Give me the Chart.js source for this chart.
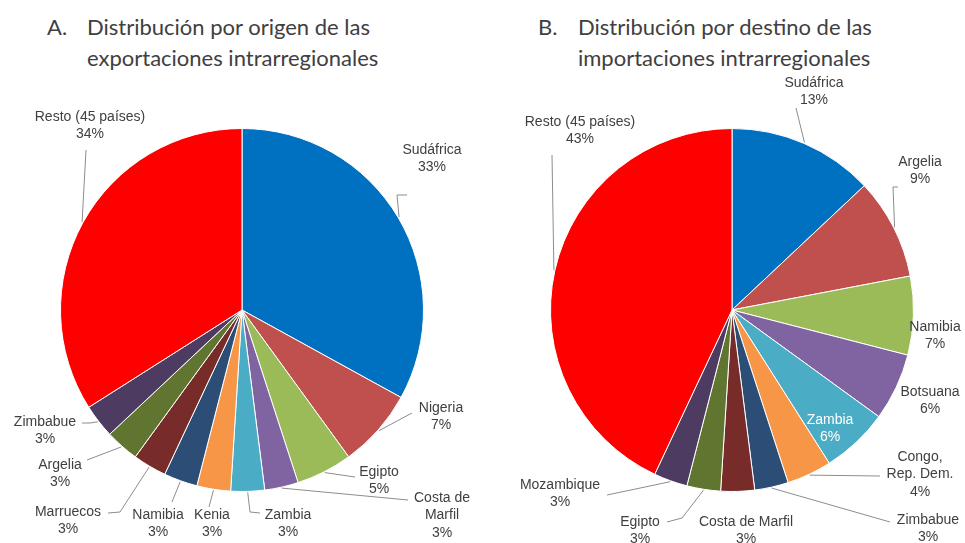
<!DOCTYPE html>
<html>
<head>
<meta charset="utf-8">
<script src="https://cdn.jsdelivr.net/npm/chart.js@4"></script>
<style>
  body { margin: 0; background: #fff; width: 965px; height: 543px; overflow: hidden; position: relative; }
  .title { position: absolute; top: 11px; color: #404040; font-family: Lato, sans-serif; font-size: 22px; line-height: 31px; }
  .title .k { position: absolute; left: 0; top: 0; }
  .title .t { margin-left: 40px; white-space: nowrap; }
  canvas { position: absolute; top: 0; }
</style>
</head>
<body>
<div class="title" style="left:47px"><span class="k">A.</span><div class="t">Distribución por origen de las<br>exportaciones intrarregionales</div></div>
<div class="title" style="left:538px"><span class="k">B.</span><div class="t">Distribución por destino de las<br>importaciones intrarregionales</div></div>
<canvas id="pieA" width="482" height="543" style="left:0"></canvas>
<canvas id="pieB" width="483" height="543" style="left:482px"></canvas>
<script>
// slices, clockwise from 12 o'clock
const labelsA = ['Sudáfrica', 'Nigeria', 'Egipto', 'Costa de Marfil', 'Zambia', 'Kenia', 'Namibia', 'Marruecos', 'Argelia', 'Zimbabue', 'Resto (45 países)'];
const valuesA = [33, 7, 5, 3, 3, 3, 3, 3, 3, 3, 34];

const labelsB = ['Sudáfrica', 'Argelia', 'Namibia', 'Botsuana', 'Zambia', 'Congo, Rep. Dem.', 'Zimbabue', 'Costa de Marfil', 'Egipto', 'Mozambique', 'Resto (45 países)'];
const valuesB = [13, 9, 7, 6, 6, 4, 3, 3, 3, 3, 43];

const colors = ['#0070C0', '#C0504D', '#9BBB59', '#8064A2', '#4BACC6', '#F79646', '#2C4D75', '#772C2A', '#5F7530', '#4D3B62', '#FF0000'];

// label placement, offsets from the pie centre (text lines, label pos, leader bends)
const layoutA = [
  { text: ['Sudáfrica'], at: [190, -160], lead: [[155, -115], [165, -115]] },
  { text: ['Nigeria'], at: [199, 98], lead: [[170, 103]] },
  { text: ['Egipto'], at: [137, 162], lead: [[113, 167]] },
  { text: ['Costa de', 'Marfil'], at: [200, 188], lead: [[166, 190]] },
  { text: ['Zambia'], at: [46, 205], lead: [[8, 202], [18, 203]] },
  { text: ['Kenia'], at: [-30, 205], lead: [[-33, 197]] },
  { text: ['Namibia'], at: [-84, 205], lead: [[-70, 192]] },
  { text: ['Marruecos'], at: [-174, 202], lead: [[-122, 202], [-134, 203]] },
  { text: ['Argelia'], at: [-182, 155], lead: [[-155, 150]] },
  { text: ['Zimbabue'], at: [-197, 112], lead: [[-152, 113], [-160, 113]] },
  { text: ['Resto (45 países)'], at: [-152, -193], lead: [[-156, -160]] }
];

const layoutB = [
  { text: ['Sudáfrica'], at: [82, -227], lead: [[64, -202]] },
  { text: ['Argelia'], at: [188, -148], lead: [[161, -123], [166, -123]] },
  { text: ['Namibia'], at: [203, 17] },
  { text: ['Botsuana'], at: [198, 82] },
  { text: ['Zambia'], at: [98, 110], color: '#ffffff' },
  { text: ['Congo,', 'Rep. Dem.'], at: [188, 147], lead: [[148, 166]] },
  { text: ['Zimbabue'], at: [196, 210], lead: [[158, 212]] },
  { text: ['Costa de Marfil'], at: [14, 212] },
  { text: ['Egipto'], at: [-92, 212], lead: [[-50, 208], [-65, 212]] },
  { text: ['Mozambique'], at: [-172, 175], lead: [[-125, 185]] },
  { text: ['Resto (45 países)'], at: [-152, -188], lead: [[-180, -155]] }
];

const pieLabels = {
  id: 'pieLabels',
  afterDatasetsDraw(chart, args, opts) {
    const ctx = chart.ctx;
    const values = chart.data.datasets[0].data;
    ctx.save();
    ctx.font = '14px "Liberation Sans", Arial, sans-serif';
    ctx.textAlign = 'center';
    ctx.textBaseline = 'middle';
    chart.getDatasetMeta(0).data.forEach((arc, i) => {
      const p = opts.layout[i];
      const { x, y, startAngle, endAngle, outerRadius } = arc.getProps(['x', 'y', 'startAngle', 'endAngle', 'outerRadius'], true);
      const mid = (startAngle + endAngle) / 2;
      if (p.lead) {
        ctx.strokeStyle = '#8c8c8c';
        ctx.lineWidth = 1;
        ctx.beginPath();
        ctx.moveTo(x + Math.cos(mid) * (outerRadius + 1), y + Math.sin(mid) * (outerRadius + 1));
        p.lead.forEach(([dx, dy]) => ctx.lineTo(x + dx, y + dy));
        ctx.stroke();
      }
      ctx.fillStyle = p.color || '#404040';
      p.text.concat([values[i] + '%']).forEach((t, k) => {
        ctx.fillText(t, x + p.at[0], y + p.at[1] + k * 17.5);
      });
    });
    ctx.restore();
  }
};

function makePie(id, labels, values, layout, pad) {
  return new Chart(document.getElementById(id), {
    type: 'pie',
    data: {
      labels: labels,
      datasets: [{ data: values, backgroundColor: colors, borderColor: '#ffffff', borderWidth: 1 }]
    },
    options: {
      responsive: false,
      animation: false,
      layout: { padding: pad },
      plugins: {
        legend: { display: false },
        tooltip: { enabled: false },
        pieLabels: { layout: layout }
      }
    },
    plugins: [pieLabels]
  });
}

makePie('pieA', labelsA, valuesA, layoutA, { top: 128, bottom: 51, left: 60, right: 58 });
makePie('pieB', labelsB, valuesB, layoutB, { top: 128, bottom: 51, left: 68, right: 51 });
</script>
</body>
</html>
